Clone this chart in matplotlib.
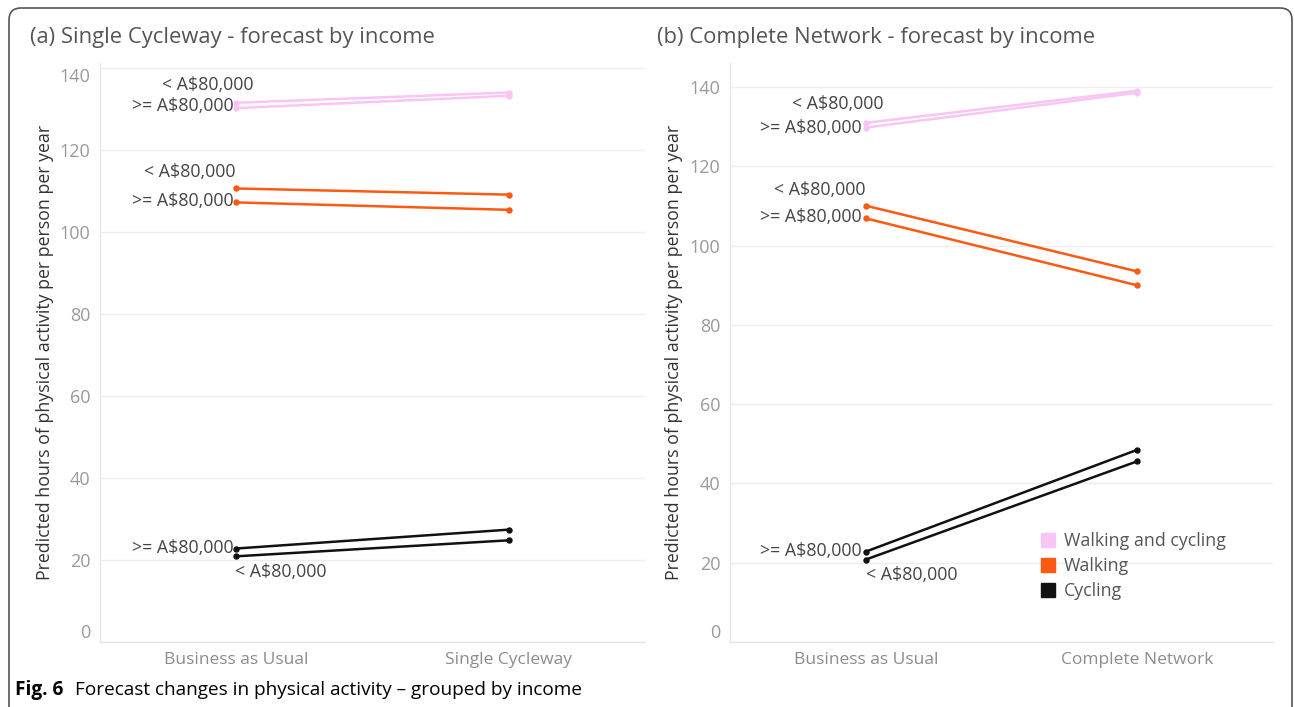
import matplotlib.pyplot as plt
import matplotlib.patches as mpatches
from matplotlib.transforms import IdentityTransform

plt.rcParams['font.family'] = ['Open Sans', 'DejaVu Sans']

# scenarios on the x axis of each panel
scenarios_a = ['Business as Usual', 'Single Cycleway']
scenarios_b = ['Business as Usual', 'Complete Network']
income_groups = ['< A$80,000', '>= A$80,000']

# (a) single cycleway, hours per person per year
walkcyc_low_a = [131.5, 134.0]
walkcyc_high_a = [130.2, 133.2]
walking_low_a = [110.6, 109.1]
walking_high_a = [107.2, 105.4]
cycling_low_a = [20.9, 24.8]
cycling_high_a = [22.8, 27.4]

# (b) complete network
walkcyc_low_b = [131.0, 139.1]
walkcyc_high_b = [129.8, 138.6]
walking_low_b = [110.1, 93.5]
walking_high_b = [106.9, 90.0]
cycling_low_b = [20.8, 45.6]
cycling_high_b = [22.8, 48.5]

PINK = '#f8c6f4'
ORANGE = '#fb5a12'
BLACK = '#111111'

fig = plt.figure(figsize=(12.95, 7.07), dpi=100)
W, H = 1295, 707

ax1 = fig.add_axes([100 / W, 1 - 642 / H, 545 / W, 579 / H])
ax2 = fig.add_axes([730 / W, 1 - 642 / H, 543 / W, 579 / H])


def draw_panel(ax, cats, series, ymax, top_shift):
    x = list(range(len(cats)))
    for vals, color, label, off in series:
        ax.plot(x, vals, color=color, lw=1.8, marker='o', ms=3.6,
                solid_capstyle='round', zorder=3)
        ax.annotate(label, (0, vals[0]), xytext=(off[0], off[1]),
                    textcoords='offset pixels', ha=off[2], va='center',
                    fontsize=12.8, color='#444444')
    ax.set_xlim(-0.5, 1.5)
    ax.set_ylim(0, ymax)
    ax.set_xticks(x)
    ax.set_xticklabels(cats, fontsize=12.5, color='#8c8c8c')
    ax.set_yticks(range(0, 141, 20))
    ax.set_yticklabels([str(v) for v in range(0, 141, 20)],
                       fontsize=13, color='#9a9a9a')
    ax.tick_params(length=0, pad=7)
    ax.tick_params(axis='x', pad=7)
    ax.grid(axis='y', color='#eeeeee', lw=1)
    for side in ['top', 'right']:
        ax.spines[side].set_visible(False)
    for side in ['left', 'bottom']:
        ax.spines[side].set_color('#e6e6e6')
        ax.spines[side].set_linewidth(1)
    ticks = ax.yaxis.get_major_ticks()
    ticks[0].label1.set_va('bottom')
    if top_shift:
        ticks[-1].label1.set_va('top')


series_a = [
    (walkcyc_low_a, PINK, income_groups[0], (17, 18, 'right')),
    (walkcyc_high_a, PINK, income_groups[1], (-3, 2, 'right')),
    (walking_low_a, ORANGE, income_groups[0], (-1, 16, 'right')),
    (walking_high_a, ORANGE, income_groups[1], (-3, 1, 'right')),
    (cycling_high_a, BLACK, income_groups[1], (-3, 1, 'right')),
    (cycling_low_a, BLACK, income_groups[0], (-1, -16, 'left')),
]
series_b = [
    (walkcyc_low_b, PINK, income_groups[0], (18, 19, 'right')),
    (walkcyc_high_b, PINK, income_groups[1], (-4, 0, 'right')),
    (walking_low_b, ORANGE, income_groups[0], (0, 16, 'right')),
    (walking_high_b, ORANGE, income_groups[1], (-4, 1, 'right')),
    (cycling_high_b, BLACK, income_groups[1], (-4, 1, 'right')),
    (cycling_low_b, BLACK, income_groups[0], (0, -15, 'left')),
]

draw_panel(ax1, scenarios_a, series_a, 141.2, True)
draw_panel(ax2, scenarios_b, series_b, 146.1, False)

# panel titles
fig.text(30 / W, 1 - 38 / H, '(a) Single Cycleway - forecast by income',
         fontsize=15.8, color='#555555', va='center', ha='left')
fig.text(657 / W, 1 - 38 / H, '(b) Complete Network - forecast by income',
         fontsize=15.8, color='#555555', va='center', ha='left')

# y axis titles
ylab = 'Predicted hours of physical activity per person per year'
fig.text(45 / W, 1 - 352 / H, ylab, rotation=90, fontsize=12.8,
         color='#333333', va='center', ha='center')
fig.text(674 / W, 1 - 352 / H, ylab, rotation=90, fontsize=12.8,
         color='#333333', va='center', ha='center')

# legend
handles = [mpatches.Patch(color=PINK, label='Walking and cycling'),
           mpatches.Patch(color=ORANGE, label='Walking'),
           mpatches.Patch(color=BLACK, label='Cycling')]
fig.legend(handles=handles, loc='upper left',
           bbox_to_anchor=(1034 / W, 1 - 525 / H), frameon=False,
           fontsize=12.8, labelcolor='#555555', handlelength=0.8,
           handleheight=0.8, handletextpad=0.5, labelspacing=0.4,
           borderaxespad=0)

# caption
fig.text(15 / W, 1 - 690 / H, 'Fig. 6', fontsize=13.7, fontweight='bold',
         va='center', ha='left', color='black')
fig.text(75 / W, 1 - 690 / H,
         'Forecast changes in physical activity \u2013 grouped by income',
         fontsize=13.7, va='center', ha='left', color='black')

# rounded frame around the figure
frame = mpatches.FancyBboxPatch((9, -30), 1283, 729,
                                boxstyle='round,pad=0,rounding_size=12',
                                transform=IdentityTransform(), fill=False,
                                edgecolor='#555555', lw=1.2)
fig.add_artist(frame)

fig.savefig('out.png', dpi=100, facecolor='white')
